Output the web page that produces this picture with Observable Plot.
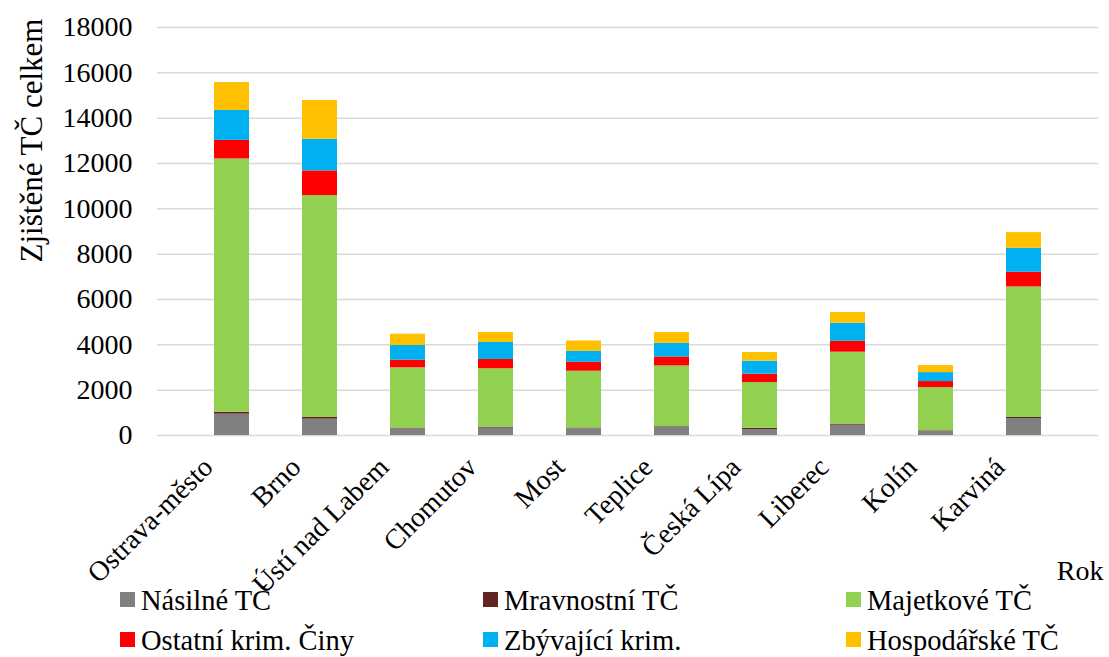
<!DOCTYPE html>
<html>
<head>
<meta charset="utf-8">
<script src="https://cdn.jsdelivr.net/npm/d3@7"></script>
<script src="https://cdn.jsdelivr.net/npm/@observablehq/plot@0.6"></script>
<style>
  html, body { margin: 0; padding: 0; background: #fff; }
  #wrap { width: 1109px; height: 657px; overflow: hidden; }
  #wrap svg { display: block; }
</style>
</head>
<body>
<div id="wrap"></div>
<script>
const categories = ["Ostrava-město", "Brno", "Ústí nad Labem", "Chomutov", "Most", "Teplice", "Česká Lípa", "Liberec", "Kolín", "Karviná"];
const nasilne      = [940, 720, 295, 325, 300, 365, 265, 455, 190, 750];
const mravnostni   = [90, 75, 30, 45, 30, 25, 55, 45, 20, 45];
const majetkove    = [11170, 9790, 2660, 2575, 2505, 2680, 2015, 3175, 1905, 5760];
const ostatni      = [820, 1090, 340, 410, 395, 395, 370, 485, 265, 645];
const zbyvajici    = [1320, 1395, 645, 750, 485, 605, 575, 795, 395, 1060];
const hospodarske  = [1230, 1710, 500, 440, 455, 470, 380, 470, 310, 690];
const seriesNames  = ["Násilné TČ", "Mravnostní TČ", "Majetkové TČ", "Ostatní krim. Činy", "Zbývající krim.", "Hospodářské TČ"];
const seriesColors = ["#808080", "#632523", "#92d050", "#ff0000", "#00b0f0", "#ffc000"];
const yTicks = [0, 2000, 4000, 6000, 8000, 10000, 12000, 14000, 16000, 18000];
const yTitle = "Zjištěné TČ celkem";
const xTitle = "Rok";

const seriesValues = [nasilne, mravnostni, majetkove, ostatni, zbyvajici, hospodarske];
const rows = [];
categories.forEach((c, i) => seriesNames.forEach((s, j) => rows.push({okres: c, typ: s, value: seriesValues[j][i]})));

const font = "'Liberation Serif', serif";

const chart = Plot.plot({
  width: 1109,
  height: 580,
  marginLeft: 157,
  marginRight: 11,
  marginTop: 27,
  marginBottom: 145,
  style: {fontFamily: font, fontSize: "28px", background: "white", color: "#000", overflow: "visible"},
  x: {domain: categories, padding: 0.6, label: null},
  y: {domain: [0, 18000], label: null},
  color: {domain: seriesNames, range: seriesColors},
  marks: [
    Plot.gridY(yTicks, {stroke: "#d9d9d9", strokeOpacity: 1, strokeWidth: 1.5}),
    Plot.barY(rows, {x: "okres", y: "value", fill: "typ"}),
    Plot.axisY(yTicks, {tickSize: 0, tickPadding: 25, label: null, tickFormat: d => String(d)}),
    Plot.axisX({tickSize: 0, tickRotate: -45, tickPadding: 12, dx: -24, dy: 15, label: null}),
    Plot.text([yTitle], {frameAnchor: "top-left", text: d => d, rotate: -90, dx: -125, dy: 113, textAnchor: "middle", lineAnchor: "middle", fontSize: 31, fill: "#000"}),
    Plot.text([xTitle], {frameAnchor: "bottom-right", text: d => d, dx: 5, dy: 136, textAnchor: "end", lineAnchor: "middle", fontSize: 28, fill: "#000"})
  ]
});

const legendRows = seriesNames.map((s, j) => ({name: s, color: seriesColors[j], col: j % 3, row: Math.floor(j / 3)}));
const legend = Plot.plot({
  width: 1109,
  height: 77,
  margin: 0,
  style: {fontFamily: font, fontSize: "28px", background: "white", color: "#000"},
  x: {type: "point", domain: [0, 1, 2], range: [126.5, 852.5], padding: 0, axis: null},
  y: {type: "point", domain: [0, 1], range: [19, 59], padding: 0, axis: null},
  marks: [
    Plot.dot(legendRows, {x: "col", y: "row", symbol: "square", r: 8.46, fill: "color", stroke: null}),
    Plot.text(legendRows, {x: "col", y: "row", text: "name", dx: 13.5, dy: 1, textAnchor: "start", lineAnchor: "middle", fontSize: 28.5, fill: "#000"})
  ]
});

document.getElementById("wrap").appendChild(chart);
document.getElementById("wrap").appendChild(legend);
</script>
</body>
</html>
